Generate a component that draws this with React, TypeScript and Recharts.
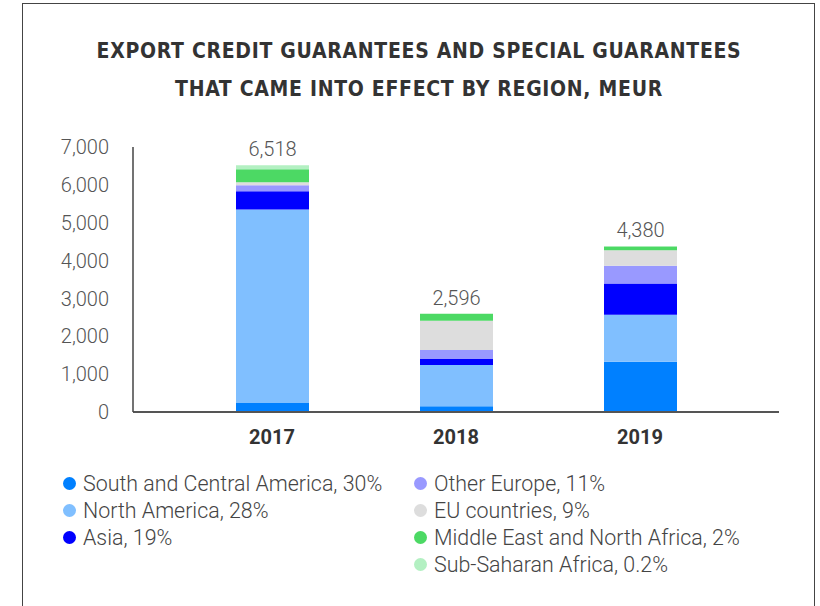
import React from 'react';
import { BarChart, Bar, XAxis, YAxis, LabelList } from 'recharts';

const years = ['2017', '2018', '2019'];
const totals = [6518, 2596, 4380];
const southCentralAmerica = [240, 150, 1330];
const northAmerica = [5110, 1090, 1241];
const asia = [480, 160, 825];
const otherEurope = [160, 240, 465];
const euCountries = [80, 770, 410];
const middleEastNorthAfrica = [345, 183, 100];
const subSaharanAfrica = [103, 3, 9];
const yTicks = [0, 1000, 2000, 3000, 4000, 5000, 6000, 7000];

const series = [
  { key: 'sca', name: 'South and Central America, 30%', color: '#0080FF', values: southCentralAmerica },
  { key: 'na', name: 'North America, 28%', color: '#80BFFF', values: northAmerica },
  { key: 'asia', name: 'Asia, 19%', color: '#0000FF', values: asia },
  { key: 'oe', name: 'Other Europe, 11%', color: '#9999FF', values: otherEurope },
  { key: 'eu', name: 'EU countries, 9%', color: '#DDDDDD', values: euCountries },
  { key: 'mena', name: 'Middle East and North Africa, 2%', color: '#4CD964', values: middleEastNorthAfrica },
  { key: 'ssa', name: 'Sub-Saharan Africa, 0.2%', color: '#B3F0C2', values: subSaharanAfrica },
];

const data = years.map((y, i) => {
  const row: any = { year: y, total: totals[i] };
  series.forEach((s) => (row[s.key] = s.values[i]));
  return row;
});

const legendCol1 = series.slice(0, 3);
const legendCol2 = series.slice(3);

const numFont = 'Roboto, sans-serif';

function LegendCol({ items, left }: { items: typeof series; left: number }) {
  return (
    <div style={{ position: 'absolute', left, top: 470 }}>
      {items.map((s) => (
        <div key={s.key} style={{ display: 'flex', alignItems: 'center', height: 27 }}>
          <span style={{ width: 13, height: 13, borderRadius: 7, background: s.color, display: 'inline-block', marginRight: 7 }} />
          <span style={{ fontFamily: numFont, fontWeight: 300, fontSize: 21.4, color: '#444', whiteSpace: 'nowrap' }}>{s.name}</span>
        </div>
      ))}
    </div>
  );
}

export default function App() {
  return (
    <div style={{ position: 'absolute', left: 0, top: 0, width: 820, height: 606, background: '#fff', overflow: 'hidden' }}>
      <div style={{ position: 'absolute', left: 22, top: 3, width: 793, height: 620, borderLeft: '1.5px solid #444', borderTop: '1.5px solid #444', borderRight: '1.5px solid #444', boxSizing: 'border-box' }} />
      <div style={{ position: 'absolute', left: 0, top: 32, width: 838, textAlign: 'center', fontFamily: '"Liberation Sans Narrow", "DejaVu Sans Condensed", sans-serif', fontWeight: 700, fontSize: 21, letterSpacing: 0.7, color: '#333', lineHeight: '38px' }}>
        EXPORT CREDIT GUARANTEES AND SPECIAL GUARANTEES
        <br />
        THAT CAME INTO EFFECT BY REGION, MEUR
      </div>
      <div style={{ position: 'absolute', left: 0, top: 0 }}>
        <BarChart width={820} height={606} data={data} margin={{ top: 147, right: 41, bottom: 154, left: 0 }} barCategoryGap={55}>
          <XAxis
            dataKey="year"
            padding={{ left: 47, right: 47 }}
            axisLine={{ stroke: '#555', strokeWidth: 2 }}
            tickLine={false}
            tickMargin={12}
            height={40}
            tick={{ fontFamily: numFont, fontWeight: 700, fontSize: 20, fill: '#333' }}
          />
          <YAxis
            width={133}
            domain={[0, 7000]}
            ticks={yTicks}
            interval={0}
            axisLine={{ stroke: '#444', strokeWidth: 1.5 }}
            tickLine={false}
            tickMargin={18}
            tickFormatter={(v: number) => v.toLocaleString('en-US')}
            tick={{ fontFamily: numFont, fontWeight: 300, fontSize: 20, fill: '#555' }}
          />
          {series.map((s, idx) => (
            <Bar key={s.key} dataKey={s.key} name={s.name} stackId="a" fill={s.color} isAnimationActive={false} barSize={73}>
              {idx === series.length - 1 && (
                <LabelList
                  dataKey="total"
                  position="top"
                  offset={9}
                  formatter={(v: any) => Number(v).toLocaleString('en-US')}
                  style={{ fontFamily: numFont, fontWeight: 300, fontSize: 20, fill: '#555' }}
                />
              )}
            </Bar>
          ))}
        </BarChart>
      </div>
      <LegendCol items={legendCol1} left={63} />
      <LegendCol items={legendCol2} left={414} />
    </div>
  );
}
